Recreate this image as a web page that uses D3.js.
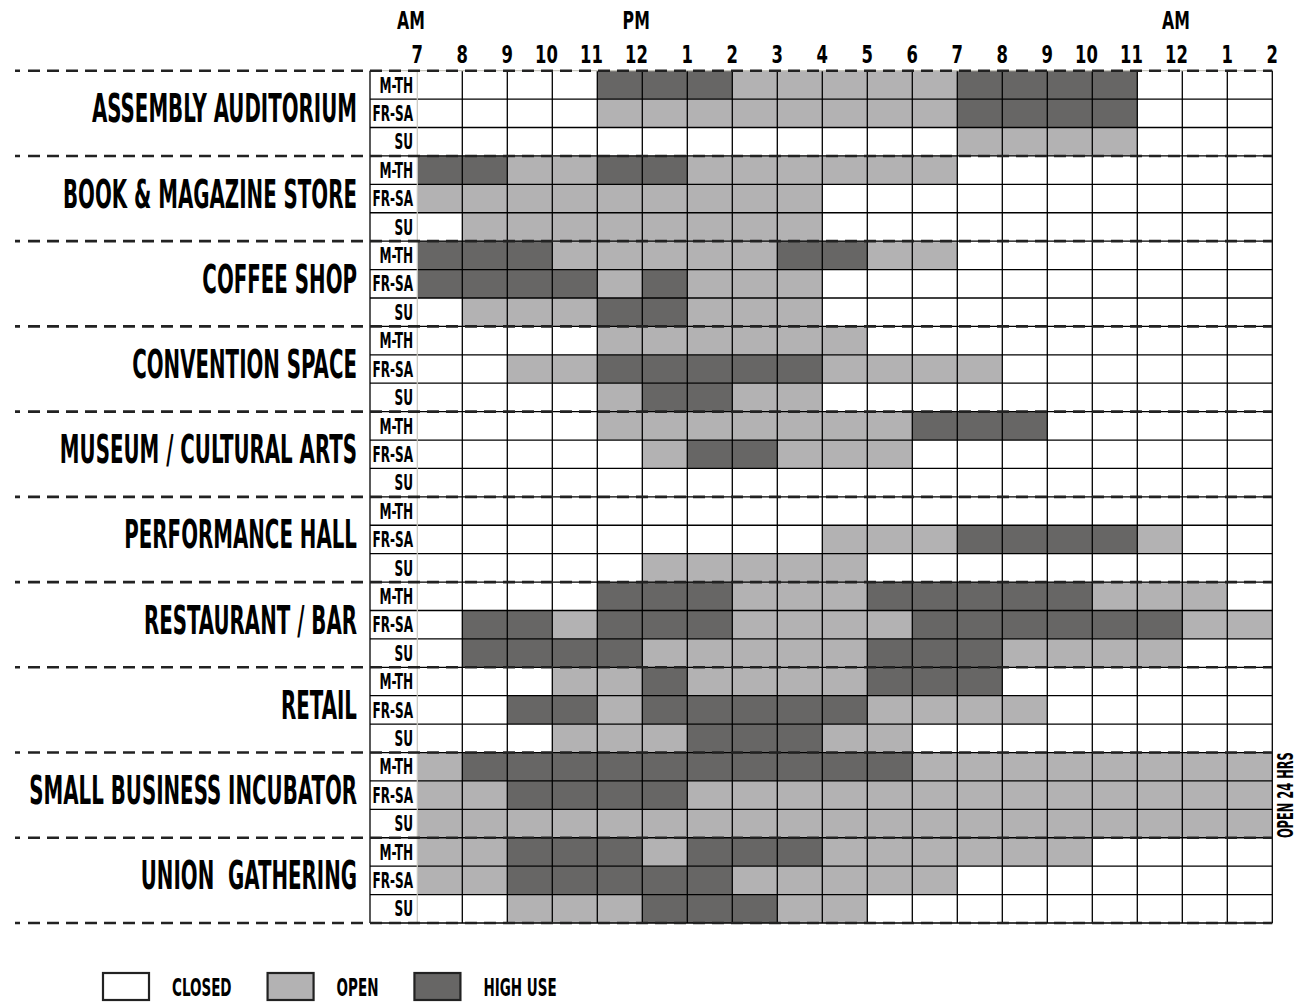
<!DOCTYPE html>
<html>
<head>
<meta charset="utf-8">
<script src="https://cdn.jsdelivr.net/npm/d3@7"></script>
<style>
  html, body { margin: 0; padding: 0; background: #fff; }
  svg { display: block; }
  text { font-family: "DejaVu Sans Condensed", "DejaVu Sans", sans-serif; font-weight: bold; fill: #000; white-space: pre; }
</style>
</head>
<body>
<svg id="chart" width="1301" height="1003"></svg>
<script>
// Hour labels sit on the grid lines; each column is one hour slot.
const hourTicks = ["7","8","9","10","11","12","1","2","3","4","5","6","7","8","9","10","11","12","1","2"];
const meridiemLabels = ["AM", "PM", "AM"];
const meridiemTickIndex = [0, 5, 17];

const dayTypes = ["M-TH", "FR-SA", "SU"];
const usageLevels = ["CLOSED", "OPEN", "HIGH USE"];

const venueNames = [
  "ASSEMBLY AUDITORIUM", "BOOK & MAGAZINE STORE", "COFFEE SHOP", "CONVENTION SPACE",
  "MUSEUM / CULTURAL ARTS", "PERFORMANCE HALL", "RESTAURANT / BAR", "RETAIL",
  "SMALL BUSINESS INCUBATOR", "UNION  GATHERING"
];

// Usage per hour slot (0 = closed, 1 = open, 2 = high use), rows: M-TH, FR-SA, SU
const assemblyAuditorium = ["0000222111112222000", "0000111111112222000", "0000000000001111000"];
const bookMagazineStore  = ["2211221111110000000", "1111111110000000000", "0111111110000000000"];
const coffeeShop         = ["2221111122110000000", "2222121110000000000", "0111221110000000000"];
const conventionSpace    = ["0000111111000000000", "0011222221111000000", "0000122110000000000"];
const museumCulturalArts = ["0000111111122200000", "0000012211100000000", "0000000000000000000"];
const performanceHall    = ["0000000000000000000", "0000000001112222100", "0000011111000000000"];
const restaurantBar      = ["0000222111222221110", "0221222111122222211", "0222211111222111100"];
const retail             = ["0001121111222000000", "0022122222111100000", "0001112221100000000"];
const businessIncubator  = ["1222222222211111111", "1122221111111111111", "1111111111111111111"];
const unionGathering     = ["1122212221111110000", "1122222111110000000", "0011122211000000000"];

const venueUsage = [assemblyAuditorium, bookMagazineStore, coffeeShop, conventionSpace,
  museumCulturalArts, performanceHall, restaurantBar, retail, businessIncubator, unionGathering];

const sideNote = "OPEN 24 HRS";

// ---- layout ----
const svg = d3.select("#chart");
const gridLeft = 417.3, gridRight = 1272.3, gridTop = 70.7, gridBottom = 923;
const labelColLeft = 370;
const slotCount = hourTicks.length - 1;
const rowCount = venueNames.length * dayTypes.length;

const x = d3.scaleLinear().domain([0, slotCount]).range([gridLeft, gridRight]);
const y = d3.scaleLinear().domain([0, rowCount]).range([gridTop, gridBottom]);
const fill = d3.scaleOrdinal().domain([0, 1, 2]).range(["#ffffff", "#b3b2b3", "#676665"]);

// Horizontally condensed text, anchored at (px, py)
function squeezed(g, str, px, py, size, k, anchor, rotate) {
  return g.append("text")
    .attr("transform", `translate(${px},${py})` + (rotate ? ` rotate(${rotate})` : "") + ` scale(${k},1)`)
    .attr("text-anchor", anchor || "start")
    .style("font-size", size + "px")
    .text(str);
}

// cells
const cells = [];
venueUsage.forEach((rows, vi) => rows.forEach((row, di) => {
  row.split("").forEach((ch, ci) => cells.push({ row: vi * 3 + di, col: ci, level: +ch }));
}));

svg.append("g").selectAll("rect").data(cells).join("rect")
  .attr("x", d => x(d.col))
  .attr("y", d => y(d.row))
  .attr("width", d => x(d.col + 1) - x(d.col))
  .attr("height", d => y(d.row + 1) - y(d.row))
  .attr("fill", d => fill(d.level));

// grid lines
const grid = svg.append("g").attr("stroke", "#000").attr("stroke-width", 1.3);
grid.selectAll("line.v").data(d3.range(1, slotCount + 1)).join("line")
  .attr("x1", d => x(d)).attr("x2", d => x(d))
  .attr("y1", gridTop).attr("y2", gridBottom);
grid.selectAll("line.h").data(d3.range(1, rowCount + 1)).join("line")
  .attr("x1", labelColLeft).attr("x2", gridRight)
  .attr("y1", d => y(d)).attr("y2", d => y(d));
// light seam between the day labels and the first hour slot, and along the top
svg.append("line").attr("x1", gridLeft).attr("x2", gridLeft).attr("y1", gridTop).attr("y2", gridBottom)
  .attr("stroke", "#c9c8c0").attr("stroke-width", 1.2);
svg.append("line").attr("x1", labelColLeft).attr("x2", gridRight).attr("y1", gridTop).attr("y2", gridTop)
  .attr("stroke", "#c9c8c0").attr("stroke-width", 1.2);
svg.append("line").attr("x1", labelColLeft).attr("x2", labelColLeft).attr("y1", gridTop).attr("y2", gridBottom)
  .attr("stroke", "#000").attr("stroke-width", 1.3);

// dashed group separators: a short lead dash, then a regular rhythm
svg.append("g").selectAll("line").data(d3.range(0, venueNames.length + 1)).join("line")
  .attr("x1", 15).attr("x2", gridRight)
  .attr("y1", d => y(d * 3)).attr("y2", d => y(d * 3))
  .attr("stroke", "#222").attr("stroke-width", 2.6)
  .attr("stroke-dasharray", "5,8," + d3.range(70).map(() => "12,7").join(","));

// day-type labels
const labels = svg.append("g");
d3.range(rowCount).forEach(r => {
  const cy = (y(r) + y(r + 1)) / 2;
  squeezed(labels, dayTypes[r % 3], 413, cy + 7.7, 21, 0.64, "end");
});

// venue labels
venueNames.forEach((name, vi) => {
  const cy = (y(vi * 3 + 1) + y(vi * 3 + 2)) / 2;
  squeezed(labels, name, 357, cy + 9, 39, 0.565, "end");
});

// hour ticks and AM/PM
hourTicks.forEach((h, i) => squeezed(labels, h, x(i) + 5.5, 63, 24, 0.76, "end"));
meridiemLabels.forEach((m, i) => squeezed(labels, m, x(meridiemTickIndex[i]) + 7.5, 29, 25, 0.7, "end"));

// 24-hour note beside the incubator rows
const incubatorMid = (y(8 * 3) + y(8 * 3 + 3)) / 2;
squeezed(labels, sideNote, 1293, incubatorMid, 20.5, 0.62, "middle", -90);

// legend
const legend = svg.append("g");
let lx = 103;
usageLevels.forEach((lvl, i) => {
  legend.append("rect").attr("x", lx).attr("y", 973).attr("width", 46).attr("height", 27)
    .attr("fill", fill(i)).attr("stroke", "#222").attr("stroke-width", 2.2);
  const t = squeezed(legend, lvl, lx + 69, 996, 25, 0.6, "start");
  const w = t.node().getBBox().width * 0.6;
  lx = lx + 69 + w + 36;
});
</script>
</body>
</html>
